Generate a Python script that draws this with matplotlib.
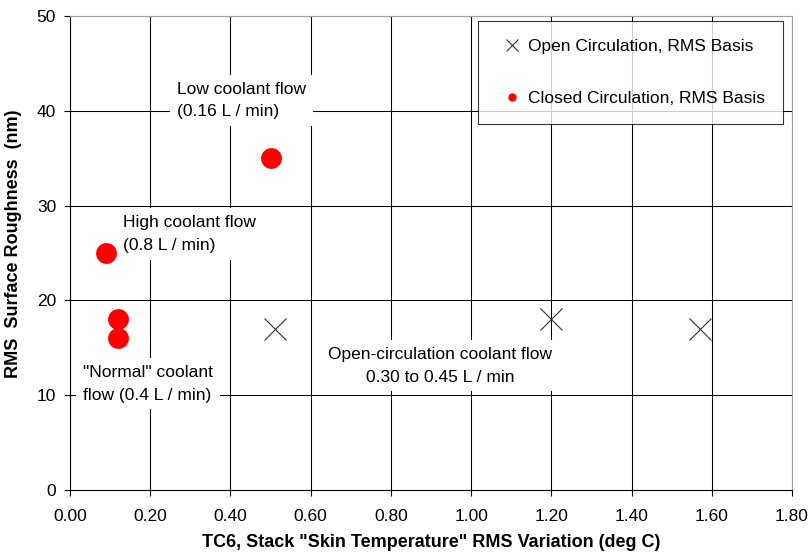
import matplotlib
matplotlib.use("Agg")
import matplotlib.pyplot as plt
from matplotlib.lines import Line2D
from matplotlib.ticker import FormatStrFormatter, MultipleLocator

plt.rcParams["font.family"] = ["Liberation Sans", "DejaVu Sans"]

# open circulation runs (x markers)
open_x = [0.51, 1.20, 1.57]
open_y = [17, 18, 17]

# closed circulation runs (red dots)
closed_x = [0.09, 0.12, 0.12, 0.50]
closed_y = [25, 18, 16, 35]

open_label = "Open Circulation, RMS Basis"
closed_label = "Closed Circulation, RMS Basis"

notes = [
    ("Low coolant flow\n(0.16 L / min)", 0.267, 41.1, "left"),
    ("High coolant flow\n(0.8 L / min)", 0.132, 27.0, "left"),
    ("\"Normal\" coolant\nflow (0.4 L / min)", 0.032, 11.2, "left"),
    ("Open-circulation coolant flow\n0.30 to 0.45 L / min", 0.923, 13.1, "center"),
]

fig = plt.figure(figsize=(8.11, 5.54), dpi=100)
ax = fig.add_axes([70 / 811, 1 - 490 / 554, 722 / 811, 474 / 554])

ax.set_xlim(0, 1.8)
ax.set_ylim(0, 50)
ax.xaxis.set_major_locator(MultipleLocator(0.2))
ax.yaxis.set_major_locator(MultipleLocator(10))
ax.xaxis.set_major_formatter(FormatStrFormatter("%.2f"))
ax.grid(True, color="black", linewidth=0.75)
ax.set_axisbelow(True)

ax.plot(open_x, open_y, linestyle="none", marker="x", markersize=16,
        markeredgewidth=0.8, color="#333333", zorder=3)
ax.plot(closed_x, closed_y, linestyle="none", marker="o", markersize=15,
        color="#ff0000", markeredgewidth=0, zorder=3)

for text, x, y, ha in notes:
    ax.text(x, y, text, ha=ha, va="center", multialignment=ha, fontsize=12.5,
            linespacing=1.62, zorder=2,
            bbox=dict(facecolor="white", edgecolor="none", pad=5))

ax.tick_params(direction="out", length=4, width=0.8, labelsize=12.5, color="black")
ax.tick_params(axis="x", pad=10)
ax.tick_params(axis="y", pad=6)
for side in ("top", "right"):
    ax.spines[side].set_color("#a0a0a0")
for side in ("left", "bottom"):
    ax.spines[side].set_color("black")
    ax.spines[side].set_linewidth(0.8)

ax.set_xlabel("TC6, Stack \"Skin Temperature\" RMS Variation (deg C)",
              fontsize=13, fontweight="bold", labelpad=7)
ax.set_ylabel("RMS  Surface Roughness  (nm)", fontsize=13, fontweight="bold")
ax.yaxis.set_label_coords(-48 / 722, 0.519)

handles = [
    Line2D([], [], linestyle="none", marker="x", markersize=8,
           markeredgewidth=0.8, color="#333333"),
    Line2D([], [], linestyle="none", marker="o", markersize=6,
           color="#ff0000", markeredgewidth=0),
]
leg = ax.legend(handles, [open_label, closed_label], loc="upper right",
                bbox_to_anchor=(783 / 811, 1 - 21 / 554), bbox_transform=fig.transFigure,
                fontsize=12.5, frameon=True, fancybox=False, borderpad=1.05,
                labelspacing=2.1, handlelength=1.8, handletextpad=0.0,
                borderaxespad=0)
leg.get_frame().set_edgecolor("black")
leg.get_frame().set_linewidth(0.8)

fig.savefig("out.png", dpi=100)
